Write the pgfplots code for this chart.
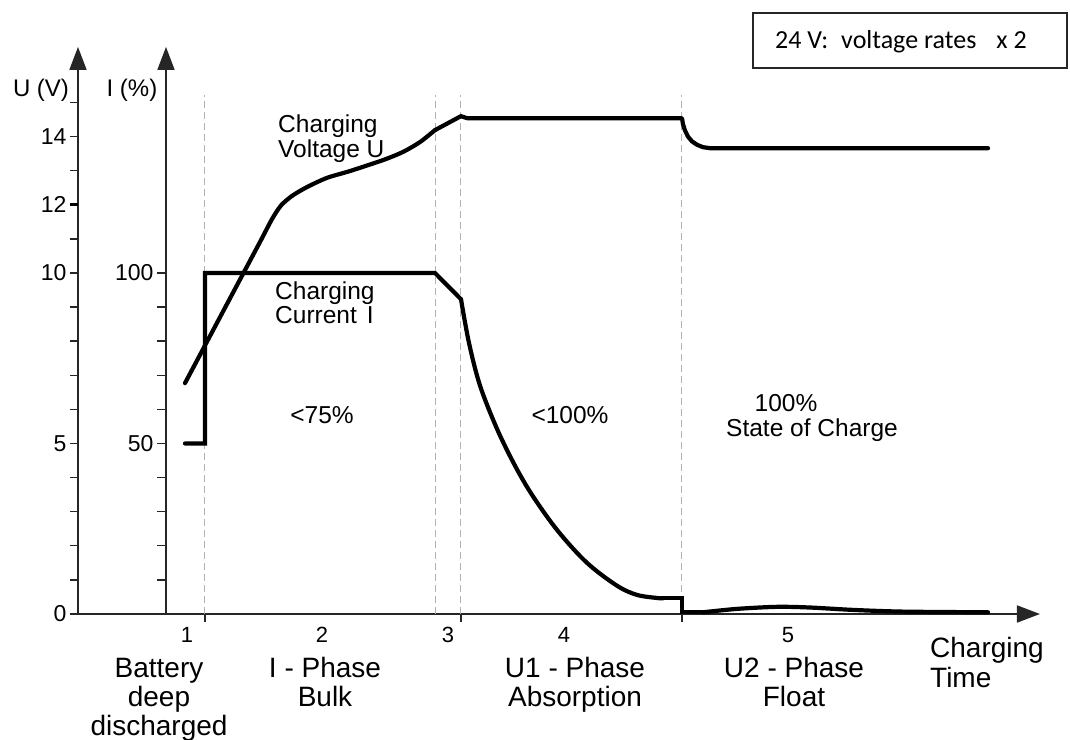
\documentclass[border=0pt]{standalone}
\usepackage{fontspec}
\setmainfont{Liberation Sans}
\newfontfamily\calibri{Carlito}
\usepackage{pgfplots}
\pgfplotsset{compat=1.18}
\usetikzlibrary{arrows.meta}
\newcommand{\fs}[1]{\fontsize{#1bp}{#1bp}\selectfont}

\begin{document}
\begin{tikzpicture}
\useasboundingbox (-78bp,-126bp) rectangle (992bp,614bp);
% ---------------- voltage axis ----------------
\begin{axis}[
  x=1bp, y=34.1bp,
  xmin=78, xmax=1040, ymin=0, ymax=16.63,
  axis lines=left,
  axis line style={line width=1.8bp, black!85, -{Triangle[length=23bp,width=17bp]}},
  tick align=outside, major tick length=8bp,
  tick style={line width=1.4bp, black!85},
  xtick={205,461,682}, xticklabels={,,},
  ytick={0,1,...,15},
  yticklabels={0,,,,,5,,,,,10,,12,,14,},
  extra y ticks={12}, extra y tick labels={},
  extra y tick style={major tick style={line width=3bp, black}},
  tick label style={font=\fs{23}},
  /pgf/number format/assume math mode=true,
  clip=false,
]
% phase separators
\addplot[black!30, line width=1bp, dash pattern=on 7bp off 4bp] coordinates {(205,0) (205,15.22)};
\addplot[black!30, line width=1bp, dash pattern=on 7bp off 4bp] coordinates {(436,0) (436,15.22)};
\addplot[black!30, line width=1bp, dash pattern=on 7bp off 4bp] coordinates {(461,0) (461,15.22)};
\addplot[black!30, line width=1bp, dash pattern=on 7bp off 4bp] coordinates {(682,0) (682,15.22)};
% charging voltage U (V)
\addplot[black, line width=4.2bp, smooth, tension=0.45, line cap=round] coordinates {
  (185,6.77) (225,8.98) (260,10.91) (272,11.58) (281,11.98) (292,12.26)
  (307,12.52) (327,12.79) (350,12.99) (383,13.31) (403,13.55) (420,13.84) (435,14.19)};
\addplot[black, line width=4.2bp, line cap=round, line join=round] coordinates {
  (435,14.19) (461,14.60) (467,14.54) (682,14.54) (683,14.36) (685,14.18) (688,14.00)
  (692,13.86) (697,13.76) (703,13.69) (710,13.66) (988,13.66)};
\end{axis}
% ---------------- current axis ----------------
\begin{axis}[
  at={(88bp,0bp)}, anchor=south west,
  x=1bp, y=3.41bp,
  xmin=166, xmax=1040, ymin=0, ymax=166.3,
  axis x line=none, axis y line=left,
  axis line style={line width=1.8bp, black!85, -{Triangle[length=23bp,width=17bp]}},
  tick align=outside, major tick length=9bp,
  tick style={line width=1.4bp, black!85},
  xtick=\empty,
  ytick={10,20,...,100},
  yticklabels={,,,,50,,,,,100},
  tick label style={font=\fs{23}},
  /pgf/number format/assume math mode=true,
  clip=false,
]
% charging current I (%)
\addplot[black, line width=4.2bp, line join=miter, line cap=round] coordinates {
  (185,50) (205,50) (205,100) (435,100) (461,92.3)};
\addplot[black, line width=4.2bp, smooth, tension=0.55, line cap=round] coordinates {
  (461,92.3) (469,79.5) (480,67.0) (497,54.3) (515,43.5) (533,34.5)
  (558,24.3) (587,15.0) (617,8.3) (637,5.6) (657,4.7) (663,4.6)};
\addplot[black, line width=4.2bp, line join=miter, line cap=round] coordinates {
  (663,4.6) (682,4.6) (682,0.5) (703,0.5)};
\addplot[black, line width=4.2bp, smooth, tension=0.5, line cap=round] coordinates {
  (703,0.5) (737,1.5) (777,2.1) (810,1.9) (853,1.2) (903,0.7) (988,0.5)};
\end{axis}
% ---------------- texts ----------------
\begin{scope}[every node/.style={inner sep=0pt}]
\node[anchor=base, font=\fs{24}] at (-37bp,517bp) {U (V)};
\node[anchor=base, font=\fs{24}] at (54bp,517bp) {I (\%)};
\node[anchor=base west, font=\fs{24.5}] at (200bp,481bp) {Charging};
\node[anchor=base west, font=\fs{24.5}] at (200bp,456bp) {Voltage U};
\node[anchor=base west, font=\fs{24.5}] at (197bp,314bp) {Charging};
\node[anchor=base west, font=\fs{24.5}] at (197bp,290bp) {Current\hspace{10bp}I};
\node[anchor=base, font=\fs{24.5}] at (244bp,190bp) {<75\%};
\node[anchor=base, font=\fs{24.5}] at (492bp,190bp) {<100\%};
\node[anchor=base, font=\fs{24.5}] at (708bp,202bp) {100\%};
\node[anchor=base, font=\fs{24.5}] at (734bp,177bp) {State of Charge};
% phase numbers
\node[anchor=base, font=\fs{22}] at (109bp,-28bp) {1};
\node[anchor=base, font=\fs{22}] at (244bp,-28bp) {2};
\node[anchor=base, font=\fs{22}] at (370bp,-28bp) {3};
\node[anchor=base, font=\fs{22}] at (486bp,-28bp) {4};
\node[anchor=base, font=\fs{22}] at (710bp,-28bp) {5};
% phase names
\node[anchor=base, font=\fs{28}] at (81bp,-63bp) {Battery};
\node[anchor=base, font=\fs{28}] at (81bp,-92bp) {deep};
\node[anchor=base, font=\fs{28}] at (81bp,-121bp) {discharged};
\node[anchor=base, font=\fs{28}] at (247bp,-63bp) {I - Phase};
\node[anchor=base, font=\fs{28}] at (247bp,-92bp) {Bulk};
\node[anchor=base, font=\fs{28}] at (497bp,-63bp) {U1 - Phase};
\node[anchor=base, font=\fs{28}] at (497bp,-92bp) {Absorption};
\node[anchor=base, font=\fs{28}] at (716bp,-63bp) {U2 - Phase};
\node[anchor=base, font=\fs{28}] at (716bp,-92bp) {Float};
\node[anchor=base west, font=\fs{28}] at (852bp,-43bp) {Charging};
\node[anchor=base west, font=\fs{28}] at (852bp,-73bp) {Time};
% note box
\draw[line width=1.6bp, black!85] (675bp,546bp) rectangle (989bp,601bp);
\node[anchor=base west, font=\calibri\fs{26}] at (697bp,565bp)
  {24 V:\hspace{13bp}voltage rates\hspace{20bp}x 2};
\end{scope}
\end{tikzpicture}
\end{document}
